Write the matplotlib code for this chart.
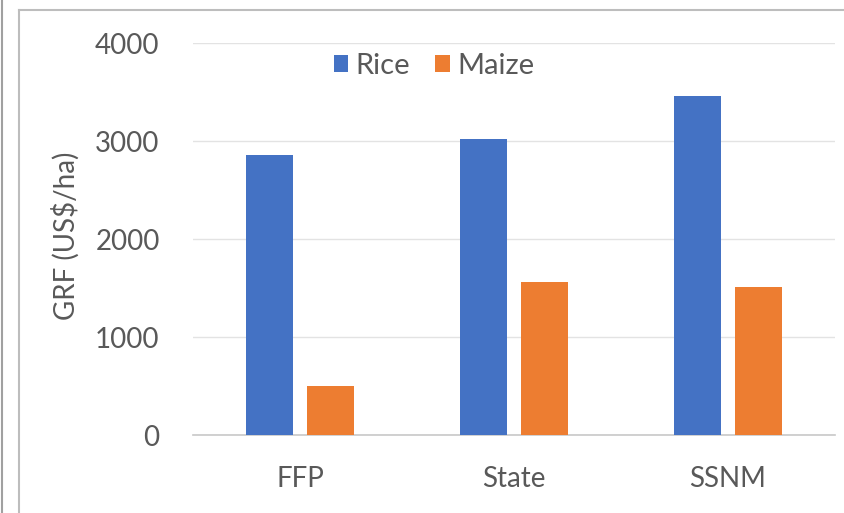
import matplotlib
matplotlib.use("Agg")
import matplotlib.pyplot as plt
from matplotlib.patches import Patch
from matplotlib.lines import Line2D
import numpy as np

categories = ["FFP", "State", "SSNM"]
rice = [2860, 3020, 3460]
maize = [500, 1560, 1510]
series_names = ["Rice", "Maize"]
y_ticks = [0, 1000, 2000, 3000, 4000]

BLUE = "#4472C4"
ORANGE = "#ED7D31"
TEXT = "#595959"

plt.rcParams["font.family"] = ["Lato", "DejaVu Sans"]

fig = plt.figure(figsize=(8.44, 5.13), dpi=100)
ax = fig.add_axes([193 / 844, 1 - 435 / 513, (835 - 193) / 844, (435 - 43) / 513])

x = np.arange(len(categories))
w = 0.22
off = 0.1425
ax.bar(x - off, rice, width=w, color=BLUE, zorder=3)
ax.bar(x + off, maize, width=w, color=ORANGE, zorder=3)

ax.set_xlim(-0.5, len(categories) - 0.5)
ax.set_ylim(0, 4000)
ax.set_yticks(y_ticks)
ax.set_yticklabels([str(v) for v in y_ticks])
ax.set_xticks(x)
ax.set_xticklabels(categories)
ax.tick_params(axis="y", length=0, pad=24, labelsize=20, labelcolor=TEXT)
ax.tick_params(axis="x", length=0, pad=22, labelsize=20, labelcolor=TEXT)

ax.grid(axis="y", color="#e3e3e3", linewidth=1.0, zorder=0)
for s in ["top", "right", "left"]:
    ax.spines[s].set_visible(False)
ax.spines["bottom"].set_color("#c8c8c8")
ax.spines["bottom"].set_linewidth(1.2)

fig.text(66 / 844, 1 - 236 / 513, "GRF (US$/ha)", rotation=90, ha="center",
         va="center", fontsize=20, color=TEXT)

handles = [Patch(facecolor=BLUE), Patch(facecolor=ORANGE)]
fig.legend(handles, series_names, loc="center", bbox_to_anchor=(434 / 844, 1 - 66 / 513),
           ncol=2, frameon=False, fontsize=21, labelcolor=TEXT,
           handlelength=0.5, handleheight=0.5, handletextpad=0.25, columnspacing=0.85)

# chart frame and neighbouring panel edge
frame_color = "#bdbdbd"
fig.add_artist(Line2D([19 / 844, 19 / 844], [0, 1 - 10 / 513], transform=fig.transFigure,
                      color=frame_color, linewidth=1.5))
fig.add_artist(Line2D([19 / 844, 1], [1 - 10 / 513, 1 - 10 / 513], transform=fig.transFigure,
                      color=frame_color, linewidth=1.5))
fig.add_artist(Line2D([2 / 844, 2 / 844], [0, 1], transform=fig.transFigure,
                      color="#a0a0a0", linewidth=1.5))

fig.savefig("out.png", dpi=100)
